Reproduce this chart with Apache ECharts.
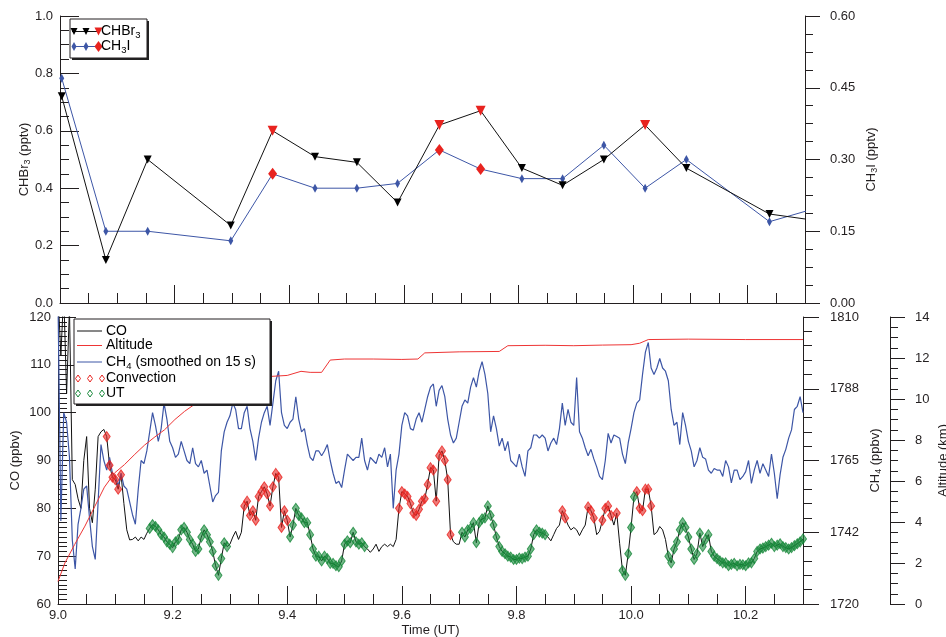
<!DOCTYPE html>
<html>
<head>
<meta charset="utf-8">
<script src="https://cdn.jsdelivr.net/npm/echarts@6/dist/echarts.min.js"></script>
<style>
html,body{margin:0;padding:0;background:#fff;}
#main{width:946px;height:637px;}
</style>
</head>
<body>
<div id="main"></div>
<script>
// ---- top panel: flask samples ----
var sampleTime = [9.003, 9.080, 9.153, 9.298, 9.371, 9.445, 9.518, 9.589, 9.662, 9.734, 9.806, 9.877, 9.949, 10.021, 10.093, 10.238, 10.31];
var chbr3 = [0.72, 0.15, 0.50, 0.27, 0.60, 0.51, 0.49, 0.35, 0.62, 0.67, 0.47, 0.41, 0.50, 0.62, 0.47, 0.31, 0.29];
var ch3i = [0.47, 0.15, 0.15, 0.13, 0.27, 0.24, 0.24, 0.25, 0.32, 0.28, 0.26, 0.26, 0.33, 0.24, 0.30, 0.17, 0.195];
var chbr3Conv = [0, 0, 0, 0, 1, 0, 0, 0, 1, 1, 0, 0, 0, 1, 0, 0, 0];
var ch3iConv = [0, 0, 0, 0, 1, 0, 0, 0, 1, 1, 0, 0, 0, 0, 0, 0, 0];

// ---- bottom panel: continuous measurements ----
var tGrid = [
9.000,9.005,9.010,9.015,9.020,9.025,9.030,9.035,9.040,9.045,
9.050,9.055,9.060,9.065,9.070,9.075,9.080,9.085,9.090,9.095,
9.100,9.105,9.110,9.115,9.120,9.125,9.130,9.135,9.140,9.145,
9.150,9.155,9.160,9.165,9.170,9.175,9.180,9.185,9.190,9.195,
9.200,9.205,9.210,9.215,9.220,9.225,9.230,9.235,9.240,9.245,
9.250,9.255,9.260,9.265,9.270,9.275,9.280,9.285,9.290,9.295,
9.300,9.305,9.310,9.315,9.320,9.325,9.330,9.335,9.340,9.345,
9.350,9.355,9.360,9.365,9.370,9.375,9.380,9.385,9.390,9.395,
9.400,9.405,9.410,9.415,9.420,9.425,9.430,9.435,9.440,9.445,
9.450,9.455,9.460,9.465,9.470,9.475,9.480,9.485,9.490,9.495,
9.500,9.505,9.510,9.515,9.520,9.525,9.530,9.535,9.540,9.545,
9.550,9.555,9.560,9.565,9.570,9.575,9.580,9.585,9.590,9.595,
9.600,9.605,9.610,9.615,9.620,9.625,9.630,9.635,9.640,9.645,
9.650,9.655,9.660,9.665,9.670,9.675,9.680,9.685,9.690,9.695,
9.700,9.705,9.710,9.715,9.720,9.725,9.730,9.735,9.740,9.745,
9.750,9.755,9.760,9.765,9.770,9.775,9.780,9.785,9.790,9.795,
9.800,9.805,9.810,9.815,9.820,9.825,9.830,9.835,9.840,9.845,
9.850,9.855,9.860,9.865,9.870,9.875,9.880,9.885,9.890,9.895,
9.900,9.905,9.910,9.915,9.920,9.925,9.930,9.935,9.940,9.945,
9.950,9.955,9.960,9.965,9.970,9.975,9.980,9.985,9.990,9.995,
10.000,10.005,10.010,10.015,10.020,10.025,10.030,10.035,10.040,10.045,
10.050,10.055,10.060,10.065,10.070,10.075,10.080,10.085,10.090,10.095,
10.100,10.105,10.110,10.115,10.120,10.125,10.130,10.135,10.140,10.145,
10.150,10.155,10.160,10.165,10.170,10.175,10.180,10.185,10.190,10.195,
10.200,10.205,10.210,10.215,10.220,10.225,10.230,10.235,10.240,10.245,
10.250,10.255,10.260,10.265,10.270,10.275,10.280,10.285,10.290,10.295,
10.300];

var co = [
125,112,125,104,122,86,85,82,80,90,
95,80,77,84,95,96,96.5,95,89,86.5,
86,84,87,81,75.5,73.4,73.5,74,73.2,74,
73.5,74.8,75.8,76.6,76.2,75.5,74.5,74,73,72.5,
71.8,73,73.5,75.5,76,75,73.5,72.5,71,71.5,
74,75.5,74.5,73,71,68,66,69.5,72.8,72,
72.5,74,75.2,73.5,75,80.5,81.5,78.5,79.5,77.5,
82.5,83.5,84.5,83,80.5,84.5,87.3,86.5,76,79.5,
77.5,74,76.5,80,78.5,78,77,77,74.5,71.5,
70,70,69,70,69.5,68.5,68.5,68,67.8,69,
72.5,73.2,72.8,75,73,72.5,72.8,72,71.5,70.8,
71.5,72.5,71,72,72.5,72,72.5,72,73.5,80,
83.5,83,82.5,81,79,78.5,79.8,81.5,82,85,
88.5,88,81.5,91,92,90,86,74.5,73,72.5,
72.5,75,74,75.5,75.8,77,72.8,77,77.8,78,
80.5,78.5,76.5,74,72,71,70.5,70,69.8,69.3,
69.3,69.6,69.5,69.8,70,71.5,74.5,75.5,75,74.8,
74.5,74,73.2,74.5,75.8,76.5,79.5,78,76.5,75.5,
76,75.5,74.3,75.5,76.5,80.3,79.5,78,74.5,75.2,
77.5,80,80.5,78.5,76.5,79,72.7,67,66,70.5,
76,82.4,83.5,80,79.5,84,84,80.5,74.5,75,
76.2,75.5,73.5,70,68.6,71.5,73,75.5,77,76,
74,71.5,69.3,70.5,74.8,72,73.5,74.5,71,70,
69.5,69,68.6,68.6,68,68.3,68.5,68,68.3,68.2,
68,68.6,68.6,69.5,71,71.5,71.7,72,72.3,72.7,
72,72.3,72.6,72,71.8,71.5,71.8,72.2,72.6,73,
73.6];

var ch4 = [
1815,1746,1780,1777,1766,1740,1731,1745,1750,1756,
1757,1747,1738,1734,1752,1770,1765,1762,1766,1761,
1760,1757,1761,1757,1756,1752,1748,1745,1756,1765,
1764,1768,1774,1780,1776,1771,1775,1783,1778,1771,
1769,1766,1767,1771,1768,1765,1764,1769,1764,1763,
1765,1761,1762,1757,1752,1754,1755,1768,1774,1777,
1779,1783,1781,1775,1775,1780,1782,1775,1771,1765,
1772,1777,1780,1782,1776,1783,1790,1793,1780,1776,
1775,1777,1778,1785,1778,1774,1775,1770,1766,1765,
1768,1768,1766.5,1768,1770,1765,1761,1757.8,1758.5,1756.5,
1762,1767,1766,1765,1766,1766,1772,1765,1762,1766,
1765,1764,1767,1766,1769,1763,1767,1750,1762,1767,
1776,1780,1779,1775,1774.5,1778,1780,1777,1781,1785,
1788,1789,1782,1787,1788.5,1785,1778,1773,1770.5,1772,
1777,1782,1784,1783,1788,1791,1788,1793,1796,1792,
1786,1774,1779,1775,1769.5,1772,1768,1771,1765,1764,
1763,1767,1763,1760,1768,1769,1773,1773,1772,1773,
1772,1768,1770.5,1772,1770,1775,1783,1776,1781,1777,
1776,1791,1774,1772,1769,1766.5,1768.5,1765.5,1763,1760,
1759,1765,1773.5,1770.5,1773,1772.5,1772,1767,1764,1770.5,
1775,1780,1783,1784,1792,1799,1802,1794,1792,1794,
1797,1794,1793,1790,1781,1776,1777,1770,1780,1776,
1771,1768,1763,1765,1769,1766,1765.5,1762,1761,1762.5,
1762,1762,1760,1765,1763,1758,1762,1762,1759,1760,
1761.5,1765,1757.8,1762,1765,1761,1764,1762,1760,1767,
1761,1753,1760.5,1766,1768.5,1772,1774.6,1781,1782,1785,
1780];

var altTime = [9.000, 9.012, 9.029, 9.047, 9.064, 9.081, 9.099, 9.116, 9.134, 9.151, 9.169, 9.186, 9.204, 9.221, 9.244, 9.268, 9.302, 9.330, 9.370, 9.400, 9.424, 9.440, 9.460, 9.475, 9.500, 9.550, 9.600, 9.628, 9.640, 9.700, 9.770, 9.785, 9.850, 9.900, 9.950, 10.000, 10.015, 10.030, 10.100, 10.200, 10.300];
var altKm = [1.1, 2.0, 2.9, 3.8, 4.75, 5.7, 6.4, 6.8, 7.3, 7.75, 8.15, 8.5, 9.0, 9.4, 9.85, 10.2, 10.65, 10.9, 11.1, 11.15, 11.35, 11.3, 11.3, 11.9, 11.95, 11.95, 11.93, 11.95, 12.25, 12.3, 12.32, 12.6, 12.62, 12.6, 12.63, 12.65, 12.72, 12.9, 12.92, 12.9, 12.9];

// flight legs flagged as convective outflow / upper troposphere
var convRanges = [[9.084, 9.113], [9.325, 9.402], [9.595, 9.686], [9.878, 9.885], [9.921, 9.937], [9.950, 9.967], [9.972, 9.977], [10.006, 10.038]];
var utRanges = [[9.160, 9.297], [9.402, 9.535], [9.701, 9.853], [9.983, 10.005], [10.063, 10.300]];

var ch4Labels = ['1720', '1742', '1765', '1788', '1810'];

var ink = '#231f20';
var red = '#e8231f';
var blue = '#3d56a6';
var green = '#17883a';
var fontFam = '"Liberation Sans", Arial, Helvetica, sans-serif';

function pairs(xs, ys) {
    return xs.map(function (x, i) { return [x, ys[i]]; });
}
function pick(ranges) {
    var out = [];
    tGrid.forEach(function (t, i) {
        for (var k = 0; k < ranges.length; k++) {
            if (t >= ranges[k][0] - 1e-9 && t <= ranges[k][1] + 1e-9) { out.push([t, co[i]]); break; }
        }
    });
    return out;
}
function samples(vals, flags, bigSize) {
    return vals.map(function (v, i) {
        var d = {value: [sampleTime[i], v]};
        if (flags[i]) { d.symbolSize = bigSize; d.itemStyle = {color: red}; }
        return d;
    });
}

var dom = document.getElementById('main');
var myChart = echarts.init(dom, null, {renderer: 'canvas'});

var lbl = {color: ink, fontSize: 13, fontFamily: fontFam};
var rich = {
    a: {fontSize: 13, fontFamily: fontFam, color: ink},
    s: {fontSize: 9, fontFamily: fontFam, color: ink, padding: [7, 0, 0, 0]}
};
var richLeg = {
    a: {fontSize: 14, fontFamily: fontFam, color: ink},
    s: {fontSize: 9.5, fontFamily: fontFam, color: ink, padding: [8, 0, 0, 0]}
};

function xAx(grid, withLabel) {
    return {
        type: 'value', gridIndex: grid, position: 'bottom', min: 9.0, max: 10.3, interval: 0.2,
        axisLine: {show: true, onZero: false, lineStyle: {color: ink, width: 1}},
        axisTick: {show: true, inside: true, length: 18, lineStyle: {color: ink}},
        minorTick: {show: true, splitNumber: 4, length: 10, lineStyle: {color: ink}},
        axisLabel: {show: withLabel, margin: 5, color: ink, fontSize: 13, fontFamily: fontFam,
            formatter: function (v) { return Math.abs(v * 5 - Math.round(v * 5)) < 1e-6 ? v.toFixed(1) : ''; }},
        splitLine: {show: false}
    };
}

var option = {
    animation: false,
    backgroundColor: '#fff',
    grid: [
        {left: 60, top: 16, width: 745, height: 287, containLabel: false, outerBoundsMode: 'none'},
        {left: 58, top: 317, width: 745, height: 287, containLabel: false, outerBoundsMode: 'none'}
    ],
    xAxis: [
        xAx(0, false),
        Object.assign(xAx(1, true), {
            name: 'Time (UT)', nameLocation: 'middle', nameGap: 20, nameMoveOverlap: false,
            nameTextStyle: {color: ink, fontSize: 13, fontFamily: fontFam}
        })
    ],
    yAxis: [
        {
            type: 'value', gridIndex: 0, position: 'left', min: 0, max: 1, interval: 0.2,
            name: '{a|CHBr}{s|3}{a| (pptv)}', nameLocation: 'middle', nameRotate: 90, nameGap: 28, nameMoveOverlap: false,
            nameTextStyle: {rich: rich},
            axisLine: {show: true, lineStyle: {color: ink}},
            axisTick: {inside: true, length: 19, lineStyle: {color: ink}},
            minorTick: {show: true, splitNumber: 4, length: 9, lineStyle: {color: ink}},
            axisLabel: Object.assign({margin: 7, formatter: function (v) { return v.toFixed(1); }}, lbl),
            splitLine: {show: false}
        },
        {
            type: 'value', gridIndex: 0, position: 'right', min: 0, max: 0.6, interval: 0.15,
            name: '{a|CH}{s|3}{a|I (pptv)}', nameLocation: 'middle', nameRotate: 90, nameGap: 58, nameMoveOverlap: false,
            nameTextStyle: {rich: rich},
            axisLine: {show: true, lineStyle: {color: ink}},
            axisTick: {inside: false, length: 15, lineStyle: {color: ink}},
            minorTick: {show: true, splitNumber: 4, length: 8, lineStyle: {color: ink}},
            axisLabel: Object.assign({margin: 25, formatter: function (v) { return v.toFixed(2); }}, lbl),
            splitLine: {show: false}
        },
        {
            type: 'value', gridIndex: 1, position: 'left', min: 60, max: 120, interval: 10,
            name: 'CO (ppbv)', nameLocation: 'middle', nameRotate: 90, nameGap: 36, nameMoveOverlap: false,
            nameTextStyle: {color: ink, fontSize: 13, fontFamily: fontFam},
            axisLine: {show: true, lineStyle: {color: ink}},
            axisTick: {inside: true, length: 18, lineStyle: {color: ink}},
            minorTick: {show: true, splitNumber: 10, length: 9, lineStyle: {color: ink}},
            axisLabel: Object.assign({margin: 7}, lbl),
            splitLine: {show: false}
        },
        {
            type: 'value', gridIndex: 1, position: 'right', min: 1720, max: 1810, interval: 22.5,
            name: '{a|CH}{s|4}{a| (ppbv)}', nameLocation: 'middle', nameRotate: 90, nameGap: 64, nameMoveOverlap: false,
            nameTextStyle: {rich: rich},
            axisLine: {show: true, lineStyle: {color: ink}},
            axisTick: {inside: false, length: 16, lineStyle: {color: ink}},
            minorTick: {show: true, splitNumber: 5, length: 9, lineStyle: {color: ink}},
            axisLabel: Object.assign({margin: 27, formatter: function (v, i) { return ch4Labels[i]; }}, lbl),
            splitLine: {show: false}
        },
        {
            type: 'value', gridIndex: 1, position: 'right', offset: 87, min: 0, max: 14, interval: 2,
            name: 'Altitude (km)', nameLocation: 'middle', nameRotate: 90, nameGap: 47, nameMoveOverlap: false,
            nameTextStyle: {color: ink, fontSize: 13, fontFamily: fontFam},
            axisLine: {show: true, lineStyle: {color: ink}},
            axisTick: {inside: false, length: 15, lineStyle: {color: ink}},
            minorTick: {show: true, splitNumber: 4, length: 8, lineStyle: {color: ink}},
            axisLabel: Object.assign({margin: 25}, lbl),
            splitLine: {show: false}
        }
    ],
    series: [
        {
            name: 'CHBr3', type: 'line', xAxisIndex: 0, yAxisIndex: 0,
            data: samples(chbr3, chbr3Conv, 10),
            symbol: 'triangle', symbolRotate: 180, symbolSize: 8, showAllSymbol: true,
            lineStyle: {color: '#111', width: 1}, itemStyle: {color: '#000'}, z: 3
        },
        {
            name: 'CH3I', type: 'line', xAxisIndex: 0, yAxisIndex: 1,
            data: samples(ch3i, ch3iConv, [9, 12]),
            symbol: 'diamond', symbolSize: [5, 9], showAllSymbol: true,
            lineStyle: {color: blue, width: 1}, itemStyle: {color: blue}, z: 2
        },
        {
            name: 'CO', type: 'line', xAxisIndex: 1, yAxisIndex: 2,
            data: pairs(tGrid, co), showSymbol: false,
            lineStyle: {color: '#111', width: 1}, z: 2
        },
        {
            name: 'Convection', type: 'scatter', xAxisIndex: 1, yAxisIndex: 2,
            data: pick(convRanges), symbol: 'diamond', symbolSize: [7, 10],
            itemStyle: {color: 'rgba(232,35,31,0.75)', borderColor: red, borderWidth: 1}, z: 4
        },
        {
            name: 'UT', type: 'scatter', xAxisIndex: 1, yAxisIndex: 2,
            data: pick(utRanges), symbol: 'diamond', symbolSize: [7, 10],
            itemStyle: {color: 'rgba(23,136,58,0.75)', borderColor: green, borderWidth: 1}, z: 4
        },
        {
            name: 'CH4', type: 'line', xAxisIndex: 1, yAxisIndex: 3,
            data: pairs(tGrid, ch4), showSymbol: false,
            lineStyle: {color: blue, width: 1.2}, z: 3
        },
        {
            name: 'Altitude', type: 'line', xAxisIndex: 1, yAxisIndex: 4,
            data: pairs(altTime, altKm), showSymbol: false,
            lineStyle: {color: '#ee3535', width: 1}, z: 3
        }
    ],
    graphic: [
        // top legend box
        {type: 'rect', shape: {x: 72, y: 21, width: 77, height: 39}, style: {fill: '#222'}, z: 100},
        {type: 'rect', shape: {x: 70, y: 19, width: 77, height: 39}, style: {fill: '#fff', stroke: ink, lineWidth: 1}, z: 101},
        {type: 'line', shape: {x1: 72, y1: 31.5, x2: 99, y2: 31.5}, style: {stroke: '#111', lineWidth: 1}, z: 102},
        {type: 'polygon', shape: {points: [[70.5, 28], [77.5, 28], [74, 35]]}, style: {fill: '#000'}, z: 103},
        {type: 'polygon', shape: {points: [[82.5, 28], [89.5, 28], [86, 35]]}, style: {fill: '#000'}, z: 103},
        {type: 'polygon', shape: {points: [[94.5, 27.5], [102.5, 27.5], [98.5, 35.5]]}, style: {fill: red}, z: 103},
        {type: 'text', x: 101, y: 31.5, style: {text: '{a|CHBr}{s|3}', rich: richLeg, verticalAlign: 'middle'}, z: 103},
        {type: 'line', shape: {x1: 72, y1: 46.5, x2: 99, y2: 46.5}, style: {stroke: blue, lineWidth: 1}, z: 102},
        {type: 'polygon', shape: {points: [[74, 42], [76.5, 46.5], [74, 51], [71.5, 46.5]]}, style: {fill: blue}, z: 103},
        {type: 'polygon', shape: {points: [[86, 42], [88.5, 46.5], [86, 51], [83.5, 46.5]]}, style: {fill: blue}, z: 103},
        {type: 'polygon', shape: {points: [[98.5, 41], [102.5, 46.5], [98.5, 52], [94.5, 46.5]]}, style: {fill: red}, z: 103},
        {type: 'text', x: 101, y: 46.5, style: {text: '{a|CH}{s|3}{a|I}', rich: richLeg, verticalAlign: 'middle'}, z: 103},
        // bottom legend box
        {type: 'rect', shape: {x: 76, y: 321, width: 196, height: 85}, style: {fill: '#222'}, z: 100},
        {type: 'rect', shape: {x: 74, y: 319, width: 196, height: 85}, style: {fill: '#fff', stroke: ink, lineWidth: 1}, z: 101},
        {type: 'line', shape: {x1: 77, y1: 331, x2: 102, y2: 331}, style: {stroke: '#111', lineWidth: 1}, z: 102},
        {type: 'text', x: 106, y: 331, style: {text: '{a|CO}', rich: richLeg, verticalAlign: 'middle'}, z: 103},
        {type: 'line', shape: {x1: 77, y1: 345.5, x2: 102, y2: 345.5}, style: {stroke: '#ee3535', lineWidth: 1}, z: 102},
        {type: 'text', x: 106, y: 345.5, style: {text: '{a|Altitude}', rich: richLeg, verticalAlign: 'middle'}, z: 103},
        {type: 'line', shape: {x1: 77, y1: 362, x2: 102, y2: 362}, style: {stroke: blue, lineWidth: 1}, z: 102},
        {type: 'text', x: 106, y: 362, style: {text: '{a|CH}{s|4}{a| (smoothed on 15 s)}', rich: richLeg, verticalAlign: 'middle'}, z: 103},
        {type: 'polygon', shape: {points: [[78, 375], [80.5, 378.5], [78, 382], [75.5, 378.5]]}, style: {fill: 'none', stroke: red, lineWidth: 1}, z: 103},
        {type: 'polygon', shape: {points: [[90, 375], [92.5, 378.5], [90, 382], [87.5, 378.5]]}, style: {fill: 'none', stroke: red, lineWidth: 1}, z: 103},
        {type: 'polygon', shape: {points: [[102, 375], [104.5, 378.5], [102, 382], [99.5, 378.5]]}, style: {fill: 'none', stroke: red, lineWidth: 1}, z: 103},
        {type: 'text', x: 106, y: 378.5, style: {text: '{a|Convection}', rich: richLeg, verticalAlign: 'middle'}, z: 103},
        {type: 'polygon', shape: {points: [[78, 390], [80.5, 393.5], [78, 397], [75.5, 393.5]]}, style: {fill: 'none', stroke: green, lineWidth: 1}, z: 103},
        {type: 'polygon', shape: {points: [[90, 390], [92.5, 393.5], [90, 397], [87.5, 393.5]]}, style: {fill: 'none', stroke: green, lineWidth: 1}, z: 103},
        {type: 'polygon', shape: {points: [[102, 390], [104.5, 393.5], [102, 397], [99.5, 393.5]]}, style: {fill: 'none', stroke: green, lineWidth: 1}, z: 103},
        {type: 'text', x: 106, y: 393.5, style: {text: '{a|UT}', rich: richLeg, verticalAlign: 'middle'}, z: 103}
    ]
};

if (option && typeof option === 'object') {
    myChart.setOption(option, true);
}
window.onresize = function () {
    myChart.resize();
};
</script>
</body>
</html>
